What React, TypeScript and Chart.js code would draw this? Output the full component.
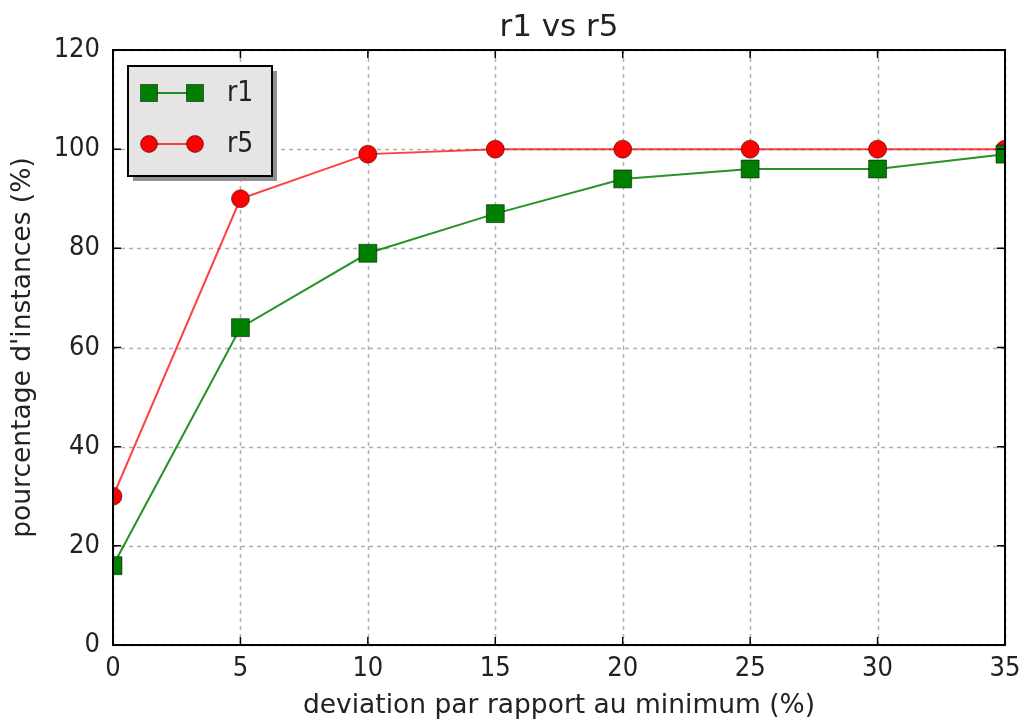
import React, { useEffect, useRef } from "react";
import { Chart, registerables } from "chart.js";

Chart.register(...registerables);

const xValues = [0, 5, 10, 15, 20, 25, 30, 35];
const r1Values = [16, 64, 79, 87, 94, 96, 96, 99];
const r5Values = [30, 90, 99, 100, 100, 100, 100, 100];
const xTicks = [0, 5, 10, 15, 20, 25, 30, 35];
const yTicks = [0, 20, 40, 60, 80, 100, 120];
const seriesNames = ["r1", "r5"];
const chartTitle = "r1 vs r5";

const FONT_C = "'DejaVu Sans Condensed', 'DejaVu Sans', sans-serif";
const FONT = "'DejaVu Sans', sans-serif";
const GREEN = "#007f00";
const RED = "#ff0000";
const TEXT = "#222";

const framePlugin = {
  id: "frameAndLegend",
  beforeDatasetsDraw(chart: any) {
    const { ctx, chartArea: a, scales } = chart;
    ctx.save();
    ctx.strokeStyle = "#b0b0b0";
    ctx.lineWidth = 1.5;
    ctx.setLineDash([4, 4]);
    xTicks.forEach((v) => {
      const px = Math.round(scales.x.getPixelForValue(v)) + 0.5;
      ctx.beginPath();
      ctx.moveTo(px, a.top);
      ctx.lineTo(px, a.bottom);
      ctx.stroke();
    });
    yTicks.forEach((v) => {
      const py = Math.round(scales.y.getPixelForValue(v)) + 0.5;
      ctx.beginPath();
      ctx.moveTo(a.left, py);
      ctx.lineTo(a.right, py);
      ctx.stroke();
    });
    ctx.restore();
  },
  afterDatasetsDraw(chart: any) {
    const { ctx, chartArea: a, scales } = chart;
    ctx.save();
    // title
    ctx.fillStyle = TEXT;
    ctx.font = `31px ${FONT}`;
    ctx.textAlign = "center";
    ctx.textBaseline = "alphabetic";
    ctx.fillText(chartTitle, (a.left + a.right) / 2, a.top - 14);
    // frame
    ctx.strokeStyle = "#000";
    ctx.lineWidth = 2;
    ctx.setLineDash([]);
    ctx.strokeRect(a.left, a.top, a.right - a.left, a.bottom - a.top);
    // inward ticks
    const tl = 8;
    ctx.lineWidth = 1.5;
    xTicks.forEach((v) => {
      const px = scales.x.getPixelForValue(v);
      ctx.beginPath();
      ctx.moveTo(px, a.bottom);
      ctx.lineTo(px, a.bottom - tl);
      ctx.moveTo(px, a.top);
      ctx.lineTo(px, a.top + tl);
      ctx.stroke();
    });
    yTicks.forEach((v) => {
      const py = scales.y.getPixelForValue(v);
      ctx.beginPath();
      ctx.moveTo(a.left, py);
      ctx.lineTo(a.left + tl, py);
      ctx.moveTo(a.right, py);
      ctx.lineTo(a.right - tl, py);
      ctx.stroke();
    });
    // legend
    const bx = a.left + 15;
    const by = a.top + 16;
    const bw = 144;
    const bh = 110;
    ctx.fillStyle = "#909090";
    ctx.fillRect(bx + 5, by + 5, bw, bh);
    ctx.fillStyle = "#e5e5e5";
    ctx.fillRect(bx, by, bw, bh);
    ctx.lineWidth = 2;
    ctx.strokeStyle = "#000";
    ctx.strokeRect(bx, by, bw, bh);
    const rows = [
      { name: seriesNames[0], color: GREEN, line: "rgba(0,128,0,0.85)", style: "rect" },
      { name: seriesNames[1], color: RED, line: "rgba(255,0,0,0.75)", style: "circle" },
    ];
    rows.forEach((r, i) => {
      const y = by + 27 + i * 51;
      const x1 = bx + 21;
      const x2 = bx + 67;
      ctx.strokeStyle = r.line;
      ctx.lineWidth = 2;
      ctx.beginPath();
      ctx.moveTo(x1, y);
      ctx.lineTo(x2, y);
      ctx.stroke();
      [x1, x2].forEach((x) => {
        ctx.fillStyle = r.color;
        ctx.strokeStyle = "rgba(0,0,0,0.5)";
        ctx.lineWidth = 1;
        if (r.style === "rect") {
          ctx.fillRect(x - 8.5, y - 8.5, 17, 17);
          ctx.strokeRect(x - 8.5, y - 8.5, 17, 17);
        } else {
          ctx.beginPath();
          ctx.arc(x, y, 8.5, 0, Math.PI * 2);
          ctx.fill();
          ctx.stroke();
        }
      });
      ctx.fillStyle = TEXT;
      ctx.font = `28px ${FONT_C}`;
      ctx.textBaseline = "middle";
      ctx.textAlign = "left";
      ctx.fillText(r.name, bx + 99, y + 1);
    });
    ctx.restore();
  },
};

export default function App() {
  const ref = useRef<HTMLCanvasElement>(null);
  useEffect(() => {
    if (!ref.current) return;
    const chart = new Chart(ref.current, {
      type: "line",
      data: {
        datasets: [
          {
            label: seriesNames[0],
            data: xValues.map((x, i) => ({ x, y: r1Values[i] })),
            borderColor: "rgba(0,128,0,0.85)",
            backgroundColor: GREEN,
            pointBackgroundColor: GREEN,
            pointBorderColor: "rgba(0,0,0,0.5)",
            pointBorderWidth: 1,
            pointStyle: "rect",
            pointRadius: 12.7,
            borderWidth: 2,
            clip: 0,
          },
          {
            label: seriesNames[1],
            data: xValues.map((x, i) => ({ x, y: r5Values[i] })),
            borderColor: "rgba(255,0,0,0.75)",
            backgroundColor: RED,
            pointBackgroundColor: RED,
            pointBorderColor: "rgba(0,0,0,0.5)",
            pointBorderWidth: 1,
            pointStyle: "circle",
            pointRadius: 9,
            borderWidth: 2,
            clip: 0,
          },
        ],
      },
      options: {
        animation: false,
        responsive: false,
        events: [],
        layout: { padding: { left: 0, right: 18, top: 50, bottom: 0 } },
        plugins: {
          legend: { display: false },
          tooltip: { enabled: false },
          title: { display: false },
        },
        scales: {
          x: {
            type: "linear",
            min: 0,
            max: 35,
            afterFit: (s: any) => {
              s.height = 78;
              s.paddingLeft = 0;
              s.paddingRight = 0;
            },
            afterBuildTicks: (s: any) => {
              s.ticks = xTicks.map((v) => ({ value: v }));
            },
            grid: { display: false, drawTicks: false },
            border: { display: false },
            ticks: {
              color: TEXT,
              font: { family: FONT_C, size: 27 },
              padding: 8,
              maxRotation: 0,
            },
            title: {
              display: true,
              text: "deviation par rapport au minimum (%)",
              color: TEXT,
              font: { family: FONT, size: 26.5 },
              padding: { top: 0, bottom: 1 },
            },
          },
          y: {
            type: "linear",
            min: 0,
            max: 120,
            afterFit: (s: any) => {
              s.width = 113;
              s.paddingTop = 0;
              s.paddingBottom = 0;
            },
            afterBuildTicks: (s: any) => {
              s.ticks = yTicks.map((v) => ({ value: v }));
            },
            grid: { display: false, drawTicks: false },
            border: { display: false },
            ticks: {
              color: TEXT,
              font: { family: FONT_C, size: 27 },
              padding: 13,
            },
            title: {
              display: true,
              text: "pourcentage d'instances (%)",
              color: TEXT,
              font: { family: FONT, size: 26.5 },
              padding: { top: 7, bottom: 0 },
            },
          },
        },
      },
      plugins: [framePlugin],
    });
    return () => chart.destroy();
  }, []);
  return (
    <div style={{ position: "absolute", left: 0, top: 0, width: 1023, height: 723, background: "#fff" }}>
      <canvas ref={ref} width={1023} height={723} style={{ display: "block" }} />
    </div>
  );
}
